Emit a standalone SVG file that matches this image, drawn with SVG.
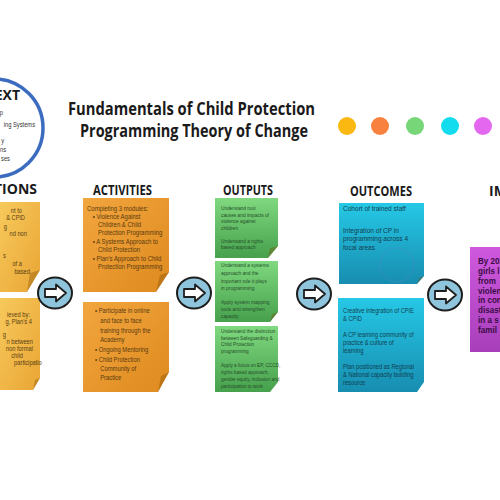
<svg xmlns="http://www.w3.org/2000/svg" width="500" height="500" viewBox="0 0 500 500">
<defs>
<linearGradient id="gA" x1="0" y1="0" x2="1" y2="1"><stop offset="0" stop-color="#f7c95c"/><stop offset="1" stop-color="#e9a534"/></linearGradient>
<linearGradient id="gB" x1="0" y1="0" x2="1" y2="1"><stop offset="0" stop-color="#f2a63e"/><stop offset="1" stop-color="#de8a1f"/></linearGradient>
<linearGradient id="gC" x1="0" y1="0" x2="0" y2="1"><stop offset="0" stop-color="#80d97f"/><stop offset="1" stop-color="#46a04c"/></linearGradient>
<linearGradient id="gD" x1="0" y1="0" x2="0" y2="1"><stop offset="0" stop-color="#26c8e6"/><stop offset="1" stop-color="#178db0"/></linearGradient>
<linearGradient id="gE" x1="0" y1="0" x2="0" y2="1"><stop offset="0" stop-color="#cf58de"/><stop offset="1" stop-color="#a83fba"/></linearGradient>
<g id="arr">
<ellipse cx="0" cy="0" rx="17" ry="15.5" fill="#8ec5dd" stroke="#1e1e1e" stroke-width="2"/>
<path d="M-10,-4 L1,-4 L1,-8.5 L11,0 L1,8.5 L1,4 L-10,4 Z" fill="#ffffff" stroke="#1e1e1e" stroke-width="1.8" stroke-linejoin="round"/>
</g>
</defs>
<style>
.hd{font-family:"Open Sans","Liberation Sans",sans-serif;font-weight:700;font-size:14px;fill:#1a1a1a}
.tt{font-family:"Open Sans","Liberation Sans",sans-serif;font-weight:700;font-size:18px;fill:#1a1a1a}
.nb{font-family:"Liberation Sans","Arial",sans-serif}
.ta{fill:#5a3e12;font-size:7px}
.tb{fill:#5a3a10;font-size:7.3px}
.tc{fill:#24502a;font-size:5.9px}
.td{fill:#123f52}
.te{fill:#3a0d46;font-size:9px;font-weight:700}
.fold{opacity:0.35;fill:#7a4a00}
</style>
<rect width="500" height="500" fill="#ffffff"/>

<g id="context">
<circle cx="-6" cy="128" r="49" fill="none" stroke="#3b6cc0" stroke-width="3.5"/>
<text x="20" y="100" text-anchor="end" class="hd" font-size="13">CONTEXT</text>
<g class="nb" font-size="7" fill="#333" text-anchor="end" transform="scale(0.82,1)">
<text x="3.7" y="115">p</text>
<text x="42.7" y="127">ing Systems</text>
<text x="4.9" y="143">y</text>
<text x="7.3" y="152">ns</text>
<text x="12.2" y="161">ses</text>
</g>
</g>

<g id="title">
<text x="68" y="115" class="tt" textLength="247" lengthAdjust="spacingAndGlyphs">Fundamentals of Child Protection</text>
<text x="80" y="137" class="tt" textLength="228" lengthAdjust="spacingAndGlyphs">Programming Theory of Change</text>
</g>

<g id="legend-dots">
<circle cx="347" cy="126" r="9" fill="#fbb810"/>
<circle cx="380" cy="126" r="9" fill="#f98140"/>
<circle cx="415" cy="126" r="9" fill="#77d677"/>
<circle cx="450" cy="126" r="9" fill="#14dcef"/>
<circle cx="483" cy="126" r="9" fill="#e467ef"/>
</g>

<g id="headers">
<text x="37" y="194" text-anchor="end" class="hd">ASSUMPTIONS</text>
<text x="93" y="195" class="hd" textLength="59" lengthAdjust="spacingAndGlyphs">ACTIVITIES</text>
<text x="223" y="195" class="hd" textLength="50" lengthAdjust="spacingAndGlyphs">OUTPUTS</text>
<text x="350" y="196" class="hd" textLength="62" lengthAdjust="spacingAndGlyphs">OUTCOMES</text>
<text x="489" y="196" class="hd">IMPACT</text>
</g>

<g id="assumptions-1">
<polygon points="0,202 40,202 40,270 27,292 0,292" fill="url(#gA)"/>
<polygon points="40,270 27,292 30,273" class="fold"/>
<g class="nb ta" text-anchor="end" transform="scale(0.82,1)">
<text x="26.8" y="213">nt to</text>
<text x="30.5" y="220">&amp; CPiD</text>
<text x="8.5" y="229">g</text>
<text x="32.9" y="236">nd non</text>
<text x="7.3" y="258">s</text>
<text x="26.8" y="266">of a</text>
<text x="36.6" y="274">based</text>
</g>
</g>

<g id="assumptions-2">
<polygon points="0,298 40,298 40,378 33,390 0,390" fill="url(#gA)"/>
<polygon points="40,378 33,390 35,380" class="fold"/>
<g class="nb ta" text-anchor="end" transform="scale(0.82,1)">
<text x="36.6" y="317">ieved by:</text>
<text x="39" y="324">g, Plan's 4</text>
<text x="7.3" y="337">g</text>
<text x="40.2" y="344">n between</text>
<text x="40.2" y="351">non formal</text>
<text x="28" y="358">child</text>
<text x="51" y="365">participatio</text>
</g>
</g>

<g id="activities-1">
<polygon points="83,198 169,198 169,272 156,292 83,292" fill="url(#gB)"/>
<polygon points="169,272 156,292 160,275" class="fold"/>
<g class="nb tb" transform="translate(87,0) scale(0.82,1)">
<text x="0" y="211">Completing 3 modules:</text>
<text x="7" y="219">•  Violence Against</text>
<text x="13.4" y="227">Children &amp; Child</text>
<text x="13.4" y="235">Protection Programming</text>
<text x="7" y="244">•  A  Systems Approach to</text>
<text x="13.4" y="252">Child Protection</text>
<text x="7" y="261">•  Plan's Approach to Child</text>
<text x="13.4" y="269">Protection Programming</text>
</g>
</g>

<g id="activities-2">
<polygon points="83,302 169,302 169,372 158,392 83,392" fill="url(#gB)"/>
<polygon points="169,372 158,392 161,376" class="fold"/>
<g class="nb tb" font-size="8.2" transform="translate(95,0) scale(0.8,1)">
<text x="0" y="313">•  Participate in online</text>
<text x="6.5" y="323">and face to face</text>
<text x="6.5" y="333">training through the</text>
<text x="6.5" y="342">Academy</text>
<text x="0" y="352">•  Ongoing Mentoring</text>
<text x="0" y="362">•  Child Protection</text>
<text x="6.5" y="371">Community of</text>
<text x="6.5" y="380">Practice</text>
</g>
</g>

<g id="outputs-1">
<polygon points="215,198 278,198 278,246 268,258 215,258" fill="url(#gC)"/>
<polygon points="278,246 268,258 270,248" class="fold"/>
<g class="nb tc" transform="translate(221,0) scale(0.82,1)">
<text x="0" y="210">Understand root</text>
<text x="0" y="217">causes and impacts of</text>
<text x="0" y="223">violence against</text>
<text x="0" y="230">children</text>
<text x="0" y="243">Understand a rights</text>
<text x="0" y="249">based approach</text>
</g>
</g>

<g id="outputs-2">
<polygon points="215,261 278,261 278,312 270,322 215,322" fill="url(#gC)"/>
<polygon points="278,312 270,322 272,314" class="fold"/>
<g class="nb tc" transform="translate(221,0) scale(0.82,1)">
<text x="0" y="267">Understand a systems</text>
<text x="0" y="275">approach and the</text>
<text x="0" y="283">important role it plays</text>
<text x="0" y="290">in programming</text>
<text x="0" y="304">Apply system mapping</text>
<text x="0" y="311">tools and strengthen</text>
<text x="0" y="318">capacity</text>
</g>
</g>

<g id="outputs-3">
<polygon points="215,326 278,326 278,382 270,392 215,392" fill="url(#gC)"/>
<g class="nb tc" transform="translate(221,0) scale(0.8,1)">
<text x="0" y="333">Understand the distinction</text>
<text x="0" y="340">between Safeguarding &amp;</text>
<text x="0" y="346">Child Protection</text>
<text x="0" y="353">programming</text>
<text x="0" y="367">Apply a focus on EP, CCCD,</text>
<text x="0" y="374">rights based approach,</text>
<text x="0" y="381">gender equity, inclusion and</text>
<text x="0" y="388">participation to work</text>
</g>
</g>

<g id="outcomes-1">
<polygon points="339,203 424,203 424,276 417,284 339,284" fill="url(#gD)"/>
<polygon points="424,276 417,284 419,278" class="fold"/>
<circle cx="397" cy="265" r="17" fill="none" stroke="#4d86c9" stroke-width="0.8" opacity="0.6"/>
<g class="nb td" font-size="8" transform="translate(343,0) scale(0.82,1)">
<text x="0" y="211">Cohort of trained staff</text>
<text x="0" y="233">Integration of CP in</text>
<text x="0" y="241">programming across 4</text>
<text x="0" y="250">focal areas</text>
</g>
</g>

<g id="outcomes-2">
<polygon points="338,298 424,298 424,382 417,392 338,392" fill="url(#gD)"/>
<g class="nb td" font-size="7" transform="translate(343,0) scale(0.82,1)">
<text x="0" y="313">Creative integration of CPiE</text>
<text x="0" y="321">&amp; CPiD</text>
<text x="0" y="337">A CP learning community of</text>
<text x="0" y="345">practice &amp; culture of</text>
<text x="0" y="353">learning</text>
<text x="0" y="369">Plan positioned as Regional</text>
<text x="0" y="377">&amp; National capacity building</text>
<text x="0" y="385">resource</text>
</g>
</g>

<g id="impact">
<rect x="470" y="247" width="32" height="105" fill="url(#gE)"/>
<g class="nb te" transform="translate(478,0) scale(0.9,1)">
<text x="0" y="264">By 2022</text>
<text x="0" y="274">girls l</text>
<text x="0" y="284">from</text>
<text x="0" y="294">violen</text>
<text x="0" y="303">in con</text>
<text x="0" y="313">disast</text>
<text x="0" y="323">in a s</text>
<text x="0" y="333">famil</text>
</g>
</g>

<g id="connectors">
<use href="#arr" x="55" y="293"/>
<use href="#arr" x="194" y="293"/>
<use href="#arr" x="314" y="294"/>
<use href="#arr" x="445" y="295"/>
</g>
</svg>
